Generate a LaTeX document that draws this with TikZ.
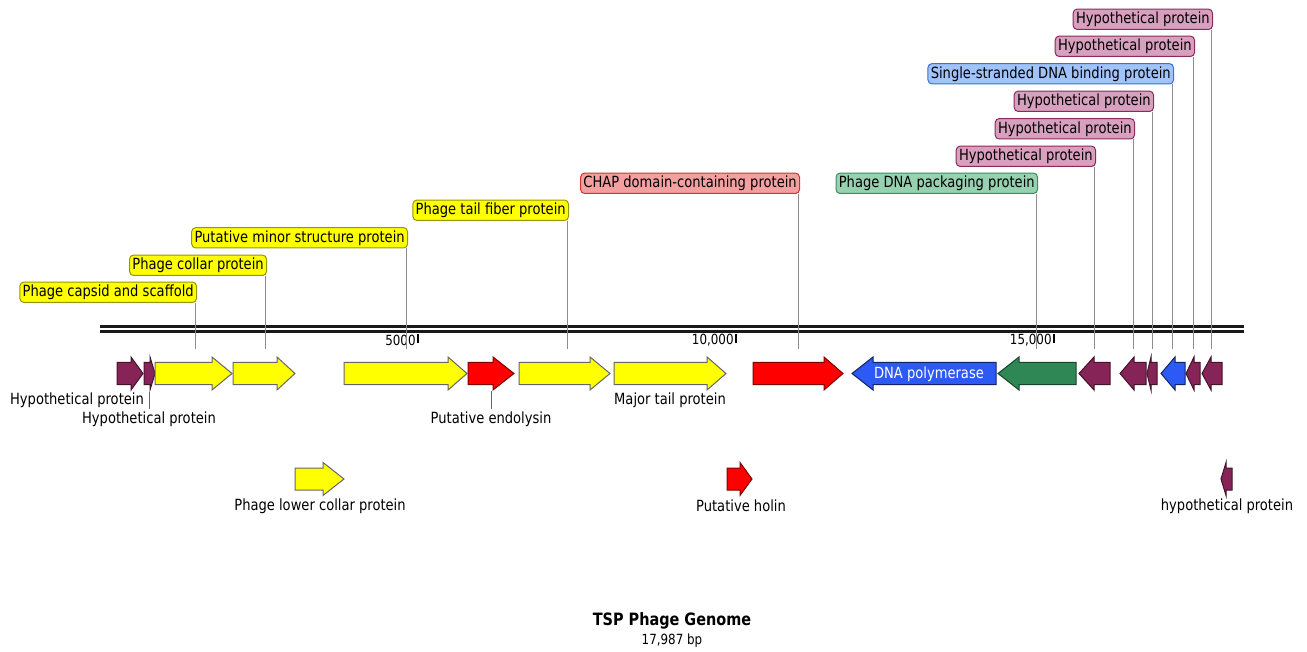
\documentclass[tikz,border=0pt]{standalone}
\usepackage{fontspec}
\setmainfont{DejaVu Sans}[FakeStretch=0.85]
\usepackage{xcolor}

\definecolor{genePurple}{RGB}{134,36,88}
\definecolor{geneYellow}{RGB}{255,255,0}
\definecolor{geneRed}{RGB}{255,0,0}
\definecolor{geneBlue}{RGB}{45,90,245}
\definecolor{geneGreen}{RGB}{46,135,85}
\definecolor{tagYellow}{RGB}{255,255,0}
\definecolor{tagYellowEdge}{RGB}{150,150,0}
\definecolor{tagRed}{RGB}{245,160,160}
\definecolor{tagRedEdge}{RGB}{210,50,50}
\definecolor{tagGreen}{RGB}{150,210,175}
\definecolor{tagGreenEdge}{RGB}{60,140,100}
\definecolor{tagPink}{RGB}{215,160,190}
\definecolor{tagPinkEdge}{RGB}{140,40,90}
\definecolor{tagBlue}{RGB}{160,195,250}
\definecolor{tagBlueEdge}{RGB}{60,110,220}

\begin{document}
\begin{tikzpicture}[
  x=0.5pt, y=-0.5pt,
  tag/.style={draw,rounded corners=2pt,inner xsep=1.4pt,inner ysep=0pt,minimum height=10.2pt,line width=0.5pt,anchor=south east,font=\fontsize{7.7}{9}\selectfont},
  ytag/.style={tag,fill=tagYellow,draw=tagYellowEdge},
  rtag/.style={tag,fill=tagRed,draw=tagRedEdge},
  gtag/.style={tag,fill=tagGreen,draw=tagGreenEdge},
  ptag/.style={tag,fill=tagPink,draw=tagPinkEdge},
  btag/.style={tag,fill=tagBlue,draw=tagBlueEdge},
  glabel/.style={inner sep=1pt,font=\fontsize{7.7}{9}\selectfont},
  leader/.style={draw=black!45,line width=0.5pt},
  backbone/.style={draw=black!90,line width=1.5pt},
  tick/.style={draw=black,line width=1pt},
  ticklabel/.style={anchor=east,inner sep=0pt,font=\fontsize{7}{8}\selectfont},
  gene/.style={line width=0.5pt,line join=miter},
  pgene/.style={gene,fill=genePurple,draw=genePurple!50!black},
  ygene/.style={gene,fill=geneYellow,draw=black!60},
  rgene/.style={gene,fill=geneRed,draw=geneRed!50!black},
  bgene/.style={gene,fill=geneBlue,draw=geneBlue!40!black},
  ggene/.style={gene,fill=geneGreen,draw=geneGreen!50!black}
]
  \useasboundingbox (0,0) rectangle (1307,652);

  \draw[backbone] (100,326.5) -- (1244,326.5);
  \draw[backbone] (100,331.5) -- (1244,331.5);
  \draw[tick] (418,334) -- (418,343);
  \draw[tick] (736,334) -- (736,343);
  \draw[tick] (1054,334) -- (1054,343);
  \node[ticklabel] (k1) at (416,340) {5000};
  \node[ticklabel] (k2) at (734,340) {10,000};
  \node[ticklabel] (k3) at (1052,340) {15,000};

  \draw[pgene] (117,362.5) -| (131,357) -- (143,373.5) -- (131,390) |- (117,384.5) -- cycle;
  \draw[pgene] (144,362.5) -| (150,357) -- (155,373.5) -- (150,390) |- (144,384.5) -- cycle;
  \draw[ygene] (155,362.5) -| (212,357) -- (232,373.5) -- (212,390) |- (155,384.5) -- cycle;
  \draw[ygene] (233,362.5) -| (277,357) -- (295,373.5) -- (277,390) |- (233,384.5) -- cycle;
  \draw[ygene] (344,362.5) -| (448,357) -- (467,373.5) -- (448,390) |- (344,384.5) -- cycle;
  \draw[rgene] (468,362.5) -| (493,357) -- (514,373.5) -- (493,390) |- (468,384.5) -- cycle;
  \draw[ygene] (519,362.5) -| (590,357) -- (610,373.5) -- (590,390) |- (519,384.5) -- cycle;
  \draw[ygene] (614,362.5) -| (707,357) -- (726,373.5) -- (707,390) |- (614,384.5) -- cycle;
  \draw[rgene] (753,362.5) -| (824,357) -- (843,373.5) -- (824,390) |- (753,384.5) -- cycle;
  \draw[bgene] (852,373.5) -- (873,357) |- (996,362.5) -- (996,384.5) -| (873,390) -- cycle;
  \draw[ggene] (998,373.5) -- (1019,357) |- (1076,362.5) -- (1076,384.5) -| (1019,390) -- cycle;
  \draw[pgene] (1079,373.5) -- (1094,357) |- (1110,362.5) -- (1110,384.5) -| (1094,390) -- cycle;
  \draw[pgene] (1120,373.5) -- (1134,357) |- (1146,362.5) -- (1146,384.5) -| (1134,390) -- cycle;
  \draw[pgene] (1147,373.5) -- (1151,357) |- (1157,362.5) -- (1157,384.5) -| (1151,390) -- cycle;
  \draw[bgene] (1161,373.5) -- (1175,357) |- (1185,362.5) -- (1185,384.5) -| (1175,390) -- cycle;
  \draw[pgene] (1186,373.5) -- (1194,357) |- (1200,362.5) -- (1200,384.5) -| (1194,390) -- cycle;
  \draw[pgene] (1202,373.5) -- (1211,357) |- (1222,362.5) -- (1222,384.5) -| (1211,390) -- cycle;

  \draw[ygene] (295,468) -| (323,462.5) -- (344,479) -- (323,495.5) |- (295,490) -- cycle;
  \draw[rgene] (727,468) -| (740,462.5) -- (752,479) -- (740,495.5) |- (727,490) -- cycle;
  \draw[pgene] (1221,479) -- (1226,462.5) |- (1232,468) -- (1232,490) -| (1226,495.5) -- cycle;

  \coordinate (c1) at (195,349);
  \coordinate (c2) at (265,349);
  \coordinate (c3) at (406,349);
  \coordinate (c4) at (567,349);
  \coordinate (c5) at (798,349);
  \coordinate (c6) at (1036,349);
  \coordinate (c7) at (1094,349);
  \coordinate (c8) at (1133,349);
  \coordinate (c9) at (1152,349);
  \coordinate (c10) at (1172,349);
  \coordinate (c11) at (1193,349);
  \coordinate (c12) at (1211,349);
  \coordinate (c13) at (149,392);
  \coordinate (c14) at (491,391);

  \node[ytag] (l1) at (197,303) {Phage capsid and scaffold};
  \node[ytag] (l2) at (267,276) {Phage collar protein};
  \node[ytag] (l3) at (408,248.5) {Putative minor structure protein};
  \node[ytag] (l4) at (569,221) {Phage tail fiber protein};
  \node[rtag] (l5) at (800,194) {CHAP domain-containing protein};
  \node[gtag] (l6) at (1038,194) {Phage DNA packaging protein};
  \node[ptag] (l7) at (1096,167) {Hypothetical protein};
  \node[ptag] (l8) at (1135,139.5) {Hypothetical protein};
  \node[ptag] (l9) at (1154,112) {Hypothetical protein};
  \node[btag] (l10) at (1174,84.5) {Single-stranded DNA binding protein};
  \node[ptag] (l11) at (1195,57) {Hypothetical protein};
  \node[ptag] (l12) at (1213,30) {Hypothetical protein};

  \draw[leader] (l1.south -| c1) -- (c1);
  \draw[leader] (l2.south -| c2) -- (c2);
  \draw[leader] (l3.south -| c3) -- (c3);
  \draw[leader] (l4.south -| c4) -- (c4);
  \draw[leader] (l5.south -| c5) -- (c5);
  \draw[leader] (l6.south -| c6) -- (c6);
  \draw[leader] (l7.south -| c7) -- (c7);
  \draw[leader] (l8.south -| c8) -- (c8);
  \draw[leader] (l9.south -| c9) -- (c9);
  \draw[leader] (l10.south -| c10) -- (c10);
  \draw[leader] (l11.south -| c11) -- (c11);
  \draw[leader] (l12.south -| c12) -- (c12);

  \node[glabel] (t1) at (77,400) {Hypothetical protein};
  \node[glabel] (t2) at (149,419) {Hypothetical protein};
  \node[glabel] (t3) at (491,419) {Putative endolysin};
  \node[glabel] (t4) at (670,400) {Major tail protein};
  \node[glabel] (t5) at (320,506) {Phage lower collar protein};
  \node[glabel] (t6) at (741,506) {Putative holin};
  \node[glabel] (t7) at (1227,506) {hypothetical protein};
  \node[glabel,text=white] (t8) at (929,374) {DNA polymerase};
  \draw[leader,draw=black!60] (c13) -- (t2);
  \draw[leader,draw=black!60] (c14) -- (t3);

  \node[font=\bfseries\fontsize{8.5}{10}\selectfont] (ttl) at (672,621) {TSP Phage Genome};
  \node[font=\fontsize{7}{8}\selectfont] (sub) at (672,641) {17,987 bp};
\end{tikzpicture}
\end{document}
